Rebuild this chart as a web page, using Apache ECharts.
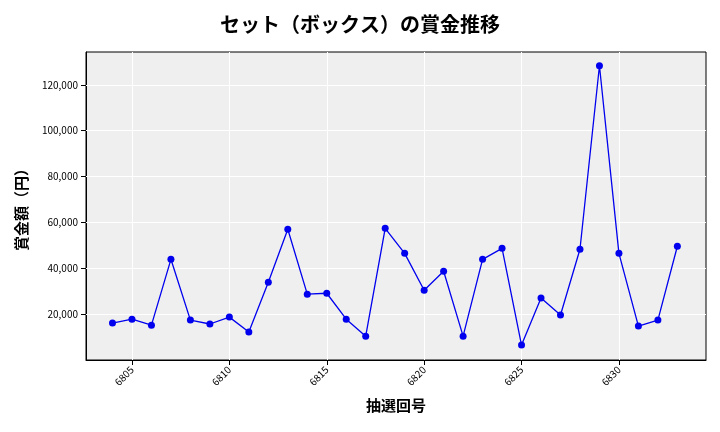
<!DOCTYPE html><html><head><meta charset="utf-8"><script src="https://cdn.jsdelivr.net/npm/echarts@6/dist/echarts.min.js"></script></head><body style="margin:0"><div id="c" style="width:720px;height:432px"></div><script>
const draws=[6804,6805,6806,6807,6808,6809,6810,6811,6812,6813,6814,6815,6816,6817,6818,6819,6820,6821,6822,6823,6824,6825,6826,6827,6828,6829,6830,6831,6832,6833];
const prizes=[16100,17800,15200,43900,17400,15700,18700,12200,33900,57000,28700,29100,17800,10400,57400,46500,30400,38700,10400,43900,48700,6500,27000,19600,48300,128300,46500,14800,17400,49600];
const xTicks=[6805,6810,6815,6820,6825,6830];
const yTicks=[20000,40000,60000,80000,100000,120000];
const f='"Noto Sans CJK JP","Noto Sans",sans-serif';
const ch=echarts.init(document.getElementById('c'));
ch.setOption({animation:false,
title:{text:'セット（ボックス）の賞金推移',left:'center',top:9,textStyle:{fontFamily:f,fontSize:20,fontWeight:'bold',color:'#000'}},
grid:{left:86,right:14,top:52,bottom:72,backgroundColor:'#efefef',show:true,borderColor:'#000',borderWidth:1},
xAxis:{type:'value',min:6802.64,max:6834.47,name:'抽選回号',nameLocation:'middle',nameGap:38,nameTextStyle:{fontFamily:f,fontSize:15,fontWeight:'bold',color:'#000'},
axisLine:{lineStyle:{color:'#000'}},splitLine:{show:false},
axisTick:{customValues:xTicks,lineStyle:{color:'#000'}},axisLabel:{customValues:xTicks,rotate:45,fontSize:10,color:'#000',fontFamily:f,formatter:v=>String(v)}},
yAxis:{type:'value',min:0,max:134300,name:'賞金額（円）',nameLocation:'middle',nameGap:57,nameTextStyle:{fontFamily:f,fontSize:15,fontWeight:'bold',color:'#000'},
axisLine:{show:true,lineStyle:{color:'#000'}},splitLine:{show:false},
axisTick:{show:true,customValues:yTicks,lineStyle:{color:'#000'}},axisLabel:{customValues:yTicks,fontSize:10,color:'#000',fontFamily:f,formatter:v=>v.toLocaleString('en-US')}},
series:[{type:'line',data:draws.map((d,i)=>[d,prizes[i]]),color:'#0000ee',symbol:'circle',symbolSize:7,lineStyle:{width:1.3,color:'#0000ee'},itemStyle:{color:'#0000ee'},
markLine:{silent:true,symbol:'none',label:{show:false},lineStyle:{color:'#fff',type:'solid',width:1},data:xTicks.map(x=>({xAxis:x})).concat(yTicks.map(y=>({yAxis:y}))),z:1}}]
});
</script></body></html>
